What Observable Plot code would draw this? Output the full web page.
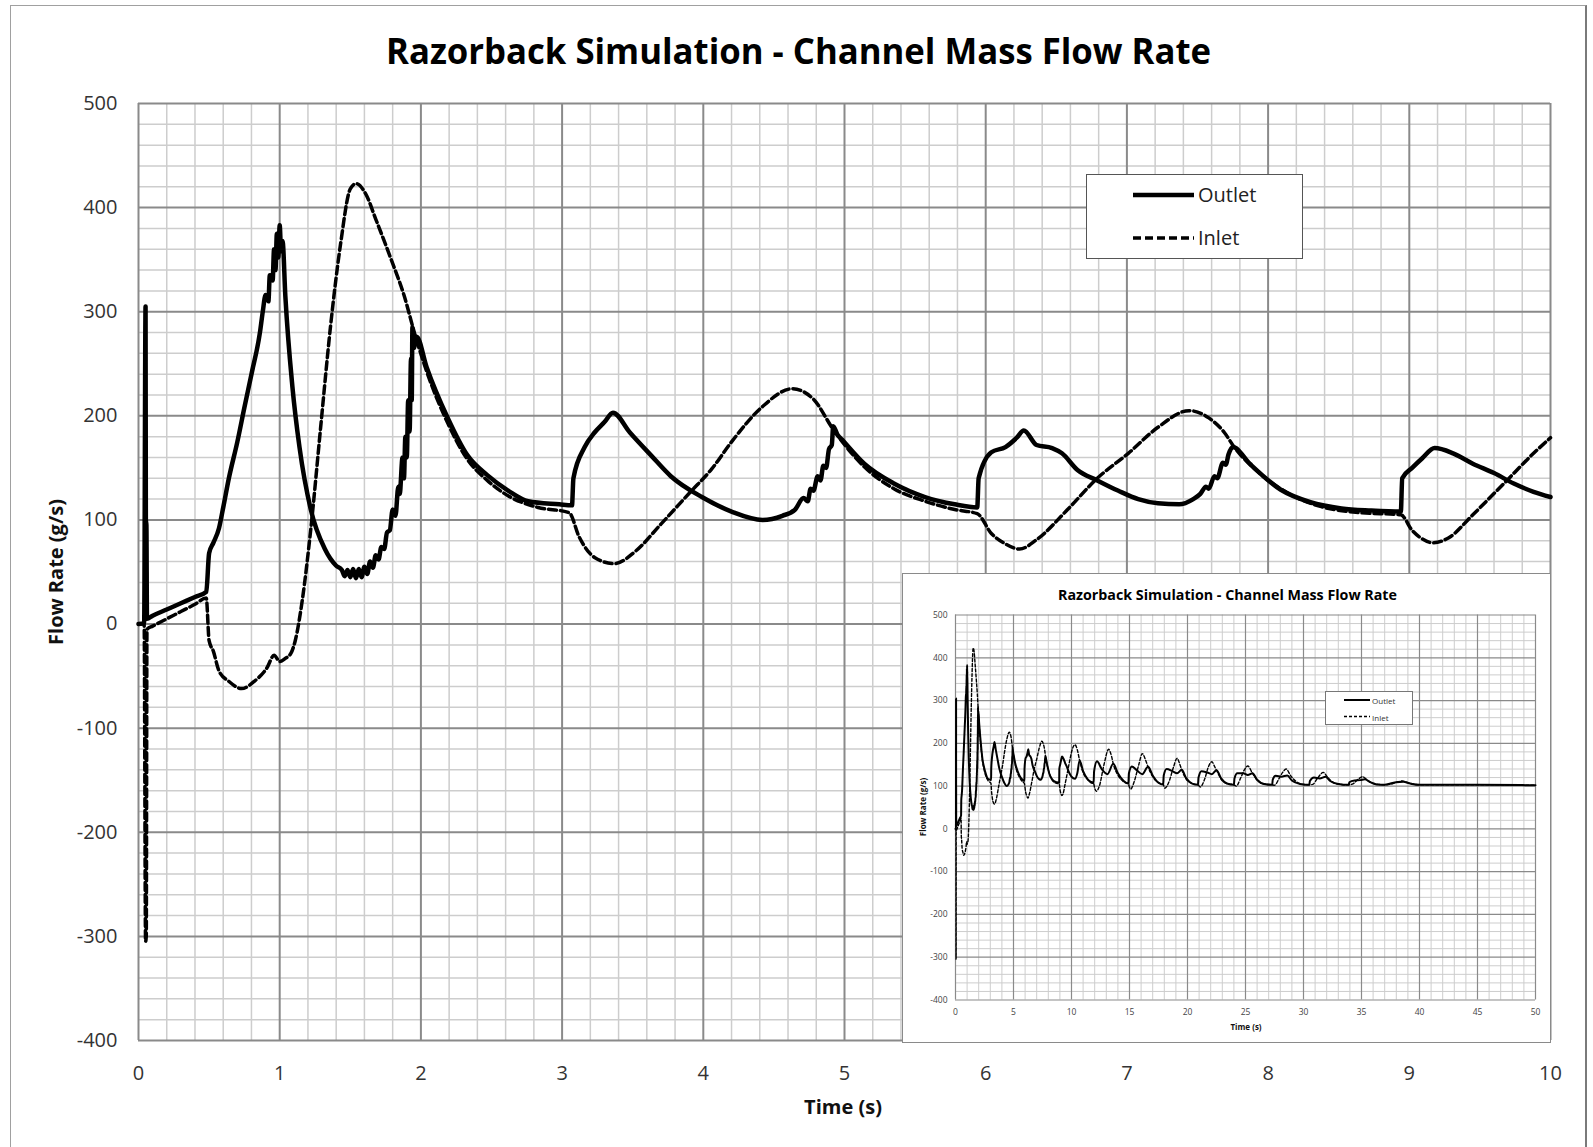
<!DOCTYPE html>
<html><head><meta charset="utf-8">
<script src="https://cdn.jsdelivr.net/npm/d3@7"></script>
<script src="https://cdn.jsdelivr.net/npm/@observablehq/plot@0.6"></script>
<style>
body{margin:0;background:#fff;}
#page{position:relative;width:1593px;height:1147px;overflow:hidden;font-family:"Open Sans",sans-serif;color:#222;}
#page svg{display:block;}
</style></head>
<body><div id="page"></div>
<script>
// ---------- DATA ----------
const title = "Razorback Simulation - Channel Mass Flow Rate";
const xLabel = "Time (s)";
const yLabel = "Flow Rate (g/s)";
const seriesNames = ["Outlet", "Inlet"];

// Main chart: x ticks (s) and y ticks (g/s)
const mainXTicks = [0,1,2,3,4,5,6,7,8,9,10];
const yTicks = [-400,-300,-200,-100,0,100,200,300,400,500];
const insetXTicks = [0,5,10,15,20,25,30,35,40,45,50];

// Outlet, 0–10 s: [time, flow]
const outletMain = [
 [0,0],[0.04,1],[0.05,305],[0.052,100],[0.056,95],[0.06,5],[0.1,8],[0.2,14],[0.3,20],[0.4,26],[0.48,31],
 [0.5,68],[0.53,78],[0.57,92],[0.6,112],[0.64,140],[0.7,175],[0.75,208],[0.8,240],[0.86,280],[0.88,300],
 [0.9,316],[0.92,310],[0.93,335],[0.95,330],[0.96,360],[0.97,340],[0.98,375],[0.99,352],[1.0,383],[1.01,358],
 [1.02,368],[1.04,315],[1.09,228],[1.14,170],[1.22,110],[1.32,72],[1.4,56],[1.44,52],[1.46,46],[1.48,52],
 [1.5,45],[1.52,53],[1.54,44],[1.56,53],[1.58,45],[1.6,55],[1.62,48],[1.64,60],[1.66,54],[1.68,66],
 [1.7,62],[1.72,74],[1.74,72],[1.76,88],[1.78,90],[1.8,110],[1.82,104],[1.84,132],[1.85,125],
 [1.87,160],[1.88,140],[1.89,180],[1.9,160],[1.91,215],[1.92,185],[1.93,255],[1.935,215],[1.94,285],
 [1.95,265],[1.97,276],[2.04,247],[2.19,198],[2.33,162],[2.47,143],[2.62,128],[2.76,118],[2.98,115],[3.07,114],
 [3.08,140],[3.16,170],[3.23,184],[3.3,194],[3.36,203],[3.48,184],[3.63,162],[3.77,142],[3.99,122],
 [4.2,108],[4.42,100],[4.56,104],[4.65,110],[4.71,121],[4.74,118],[4.76,130],[4.78,128],[4.81,142],
 [4.83,138],[4.85,152],[4.87,150],[4.89,168],[4.91,172],[4.92,190],[4.95,182],[4.99,176],[5.14,154],
 [5.35,135],[5.57,122],[5.78,115],[5.94,112],[5.95,140],[6.04,165],[6.14,170],[6.22,179],[6.27,186],
 [6.36,172],[6.47,169],[6.54,164],[6.65,148],[6.79,138],[6.94,128],[7.08,120],[7.22,116],[7.37,115],
 [7.47,120],[7.52,125],[7.56,132],[7.58,130],[7.62,142],[7.64,140],[7.68,155],[7.7,153],[7.72,163],
 [7.75,170],[7.87,154],[8.09,129],[8.3,117],[8.52,111],[8.73,109],[8.94,108],[8.95,140],[9.02,150],
 [9.09,159],[9.18,169],[9.31,164],[9.45,154],[9.6,145],[9.74,135],[9.88,127],[10.0,122]
];

// Inlet, 0–10 s: [time, flow]
const inletMain = [
 [0,0],[0.04,0],[0.05,-305],[0.055,-300],[0.06,-5],[0.1,-2],[0.2,5],[0.3,12],[0.4,19],[0.48,25],
 [0.5,-16],[0.53,-26],[0.57,-45],[0.64,-55],[0.73,-62],[0.82,-55],[0.91,-42],[0.96,-30],[1.0,-36],
 [1.04,-33],[1.08,-28],[1.11,-16],[1.16,23],[1.22,91],[1.29,189],[1.36,286],[1.43,364],[1.5,418],
 [1.54,423],[1.61,413],[1.68,389],[1.79,350],[1.88,316],[1.96,277],[2.04,243],[2.19,193],[2.33,158],
 [2.47,138],[2.62,123],[2.83,112],[3.05,107],[3.12,84],[3.23,64],[3.37,58],[3.52,70],[3.7,96],
 [3.91,127],[4.06,149],[4.2,175],[4.42,209],[4.63,226],[4.78,216],[4.92,187],[5.14,151],[5.35,130],
 [5.57,118],[5.78,110],[5.94,106],[6.04,87],[6.14,77],[6.24,72],[6.36,81],[6.58,110],[6.79,140],
 [7.01,164],[7.22,189],[7.44,205],[7.58,198],[7.69,184],[7.76,170],[7.94,145],[8.15,125],[8.37,113],
 [8.65,107],[8.94,105],[9.02,90],[9.09,82],[9.17,78],[9.28,83],[9.45,105],[9.67,135],[9.88,164],[10.0,179]
];

// Outlet, 10–50 s (inset only)
const outletLate = [
 [10.3,117],[10.5,130],[10.7,160],[11.0,135],[11.4,116],[11.9,107],[11.95,135],[12.2,158],[12.6,140],
 [13.1,128],[13.6,152],[14.0,130],[14.5,112],[14.9,106],[14.95,130],[15.2,146],[15.6,138],[16.1,128],
 [16.6,145],[17.0,125],[17.5,108],[17.9,104],[17.95,125],[18.2,140],[18.7,135],[19.1,130],[19.5,138],
 [19.9,118],[20.4,106],[20.9,103],[20.95,120],[21.2,135],[21.7,132],[22.1,128],[22.5,137],[22.9,118],
 [23.4,106],[24.0,103],[24.05,118],[24.3,130],[24.8,130],[25.2,126],[25.6,130],[26.0,115],[26.6,105],
 [27.3,103],[27.35,115],[27.6,124],[28.1,122],[28.6,125],[29.0,113],[29.7,105],[30.5,103],[30.55,112],
 [30.9,120],[31.4,118],[31.9,122],[32.3,112],[33.0,105],[33.9,103],[33.95,109],[34.4,113],[34.9,114],
 [35.3,116],[35.7,110],[36.3,104],[37.0,103],[37.5,106],[38.0,109],[38.6,110],[39.2,106],[40.0,103],
 [45.0,103],[50.0,102]
];

// Inlet, 10–50 s (inset only)
const inletLate = [
 [10.15,192],[10.3,197],[10.5,185],[10.7,160],[11.0,132],[11.4,115],[11.9,107],[12.0,95],[12.15,88],
 [12.4,100],[12.8,150],[13.2,186],[13.45,170],[13.6,152],[14.0,126],[14.5,110],[14.9,105],[15.0,97],
 [15.1,93],[15.4,110],[15.8,150],[16.1,176],[16.4,160],[16.6,145],[17.0,122],[17.5,108],[17.9,104],
 [18.05,95],[18.4,110],[18.8,145],[19.1,165],[19.35,150],[19.5,138],[19.9,116],[20.4,106],[20.9,103],
 [21.1,98],[21.5,118],[21.8,145],[22.1,157],[22.35,145],[22.5,137],[22.9,116],[23.4,106],[24.0,103],
 [24.2,100],[24.6,120],[24.9,138],[25.2,147],[25.6,130],[26.0,114],[26.6,105],[27.3,103],[27.5,102],
 [27.9,118],[28.2,132],[28.5,140],[28.9,124],[29.4,110],[30.0,104],[30.5,103],[30.8,104],[31.2,118],
 [31.7,132],[32.1,120],[32.6,108],[33.2,104],[33.9,103],[34.3,106],[34.7,116],[35.1,122],[35.5,114],
 [36.1,106],[37.0,103],[37.6,105],[38.1,110],[38.5,112],[39.0,108],[39.6,104],[40.0,103],[45.0,103],
 [50.0,102]
];

// ---------- STYLE ----------
const MINOR = "#cdcdcd", MAJOR = "#8a8a8a", TICKCOL = "#333";
const fmt = d => String(d);
const rows = a => a.map(([t, v]) => ({t, v}));

const page = document.getElementById("page");
function el(tag, css, html) {
  const e = document.createElement(tag);
  e.style.cssText = css; if (html != null) e.innerHTML = html;
  return e;
}
// fit a text element horizontally to a target width, centered on cx
function fitText(parent, text, cx, cy, width, css) {
  const wrap = el("div", `position:absolute;left:0;top:0;white-space:nowrap;${css}`);
  const span = el("span", "display:inline-block;line-height:1;transform-origin:0 0;");
  span.textContent = text;
  wrap.appendChild(span); parent.appendChild(wrap);
  const r = span.getBoundingClientRect();
  const s = width / r.width;
  span.style.transform = `scaleX(${s})`;
  wrap.style.left = (cx - width / 2) + "px";
  wrap.style.top = (cy - r.height / 2) + "px";
  return wrap;
}

// outer frame
page.appendChild(el("div","position:absolute;left:10px;top:5px;width:1577px;height:1200px;border-left:1px solid #a0a0a0;border-top:1px solid #a0a0a0;border-right:2px solid #7a7a7a;box-sizing:border-box;"));

// ---------- MAIN CHART ----------
const mainX = d3.range(0, 51).map(i => i / 5);
const mainXMinor = mainX.filter(d => !mainXTicks.includes(d));
const yMinor = d3.range(-400, 501, 20).filter(d => !yTicks.includes(d));

const main = Plot.plot({
  width: 1593, height: 1147,
  marginLeft: 138, marginRight: 43, marginTop: 103, marginBottom: 107,
  x: {domain: [0, 10], ticks: mainXTicks, tickSize: 0, tickPadding: 25, tickFormat: fmt, label: null},
  y: {domain: [-400, 500], ticks: yTicks, tickSize: 0, tickPadding: 21, tickFormat: fmt, label: null},
  style: {fontFamily: "'Open Sans', sans-serif", fontSize: "20px", color: TICKCOL, background: "transparent", overflow: "visible"},
  marks: [
    Plot.ruleX(mainXMinor, {stroke: MINOR, strokeWidth: 1.5}),
    Plot.ruleY(yMinor, {stroke: MINOR, strokeWidth: 1.5}),
    Plot.ruleX(mainXTicks, {stroke: MAJOR, strokeWidth: 2}),
    Plot.ruleY(yTicks, {stroke: MAJOR, strokeWidth: 2}),
    Plot.line(rows(inletMain), {x: "t", y: "v", curve: "monotone-x", stroke: "#000", strokeWidth: 3.5, strokeDasharray: "8,4"}),
    Plot.line(rows(outletMain), {x: "t", y: "v", curve: "monotone-x", stroke: "#000", strokeWidth: 4.5, strokeLinejoin: "round"})
  ]
});
main.style.position = "absolute"; main.style.left = "0px"; main.style.top = "0px";
page.appendChild(main);

// title and axis titles
fitText(page, title, 798, 44, 825, "font-weight:700;font-size:35px;color:#000;");
page.appendChild(el("div","position:absolute;left:843px;top:1106px;transform:translate(-50%,-50%);font-weight:700;font-size:20px;color:#111;white-space:nowrap;", xLabel));
page.appendChild(el("div","position:absolute;left:55px;top:572px;transform:translate(-50%,-50%) rotate(-90deg);font-weight:700;font-size:20px;color:#111;white-space:nowrap;", yLabel));

// main legend
(function(){
  const box = el("div","position:absolute;left:1086px;top:174px;width:217px;height:85px;border:1.5px solid #555;background:#fff;box-sizing:border-box;");
  page.appendChild(box);
  const ns = "http://www.w3.org/2000/svg";
  const svg = document.createElementNS(ns, "svg");
  svg.setAttribute("width", 217); svg.setAttribute("height", 85);
  svg.style.cssText = "position:absolute;left:-1.5px;top:-1.5px;";
  [[21, null, 4.5], [64, "8,4", 3.5]].forEach(([y, dash, w]) => {
    const l = document.createElementNS(ns, "line");
    l.setAttribute("x1", 47); l.setAttribute("x2", 108); l.setAttribute("y1", y); l.setAttribute("y2", y);
    l.setAttribute("stroke", "#000"); l.setAttribute("stroke-width", w);
    if (dash) l.setAttribute("stroke-dasharray", dash);
    svg.appendChild(l);
  });
  box.appendChild(svg);
  seriesNames.forEach((n, i) => {
    box.appendChild(el("div", `position:absolute;left:111px;top:${[21,64][i]}px;transform:translateY(-55%);font-size:20px;color:#222;white-space:nowrap;`, n));
  });
})();

// ---------- INSET ----------
const inset = el("div","position:absolute;left:902px;top:573px;width:649px;height:470px;border:1px solid #8a8a8a;background:#fff;box-sizing:border-box;");
page.appendChild(inset);

const insetXMinor = d3.range(0, 51).filter(d => !insetXTicks.includes(d));
const insetPlot = Plot.plot({
  width: 647, height: 468,
  marginLeft: 52, marginRight: 15, marginTop: 40.5, marginBottom: 42.5,
  x: {domain: [0, 50], ticks: insetXTicks, tickSize: 0, tickPadding: 9, tickFormat: fmt, label: null},
  y: {domain: [-400, 500], ticks: yTicks, tickSize: 0, tickPadding: 8, tickFormat: fmt, label: null},
  style: {fontFamily: "'Open Sans', sans-serif", fontSize: "8.5px", color: "#444", background: "transparent", overflow: "visible"},
  marks: [
    Plot.ruleX(insetXMinor, {stroke: MINOR, strokeWidth: 1}),
    Plot.ruleY(yMinor, {stroke: MINOR, strokeWidth: 1}),
    Plot.ruleX(insetXTicks, {stroke: MAJOR, strokeWidth: 1.2}),
    Plot.ruleY(yTicks, {stroke: MAJOR, strokeWidth: 1.2}),
    Plot.line(rows(inletMain.concat(inletLate)), {x: "t", y: "v", curve: "monotone-x", stroke: "#000", strokeWidth: 1.4, strokeDasharray: "3,2"}),
    Plot.line(rows(outletMain.concat(outletLate)), {x: "t", y: "v", curve: "monotone-x", stroke: "#000", strokeWidth: 2, strokeLinejoin: "round"})
  ]
});
insetPlot.style.position = "absolute"; insetPlot.style.left = "0px"; insetPlot.style.top = "0px";
inset.appendChild(insetPlot);

fitText(inset, title, 324, 17, 339, "font-weight:700;font-size:15px;color:#000;");
inset.appendChild(el("div","position:absolute;left:343px;top:452px;transform:translate(-50%,-50%);font-weight:700;font-size:8px;color:#111;white-space:nowrap;", xLabel));
inset.appendChild(el("div","position:absolute;left:19px;top:233px;transform:translate(-50%,-50%) rotate(-90deg);font-weight:700;font-size:8px;color:#111;white-space:nowrap;", yLabel));

// inset legend
(function(){
  const box = el("div","position:absolute;left:422px;top:117px;width:88px;height:34px;border:1px solid #777;background:#fff;box-sizing:border-box;");
  inset.appendChild(box);
  const ns = "http://www.w3.org/2000/svg";
  const svg = document.createElementNS(ns, "svg");
  svg.setAttribute("width", 88); svg.setAttribute("height", 34);
  svg.style.cssText = "position:absolute;left:-1px;top:-1px;";
  [[9, null, 2], [25.5, "3,2", 1.4]].forEach(([y, dash, w]) => {
    const l = document.createElementNS(ns, "line");
    l.setAttribute("x1", 19); l.setAttribute("x2", 45); l.setAttribute("y1", y); l.setAttribute("y2", y);
    l.setAttribute("stroke", "#000"); l.setAttribute("stroke-width", w);
    if (dash) l.setAttribute("stroke-dasharray", dash);
    svg.appendChild(l);
  });
  box.appendChild(svg);
  seriesNames.forEach((n, i) => {
    box.appendChild(el("div", `position:absolute;left:46px;top:${[9,25.5][i]}px;transform:translateY(-55%);font-size:8px;color:#333;white-space:nowrap;`, n));
  });
})();
</script></body></html>
